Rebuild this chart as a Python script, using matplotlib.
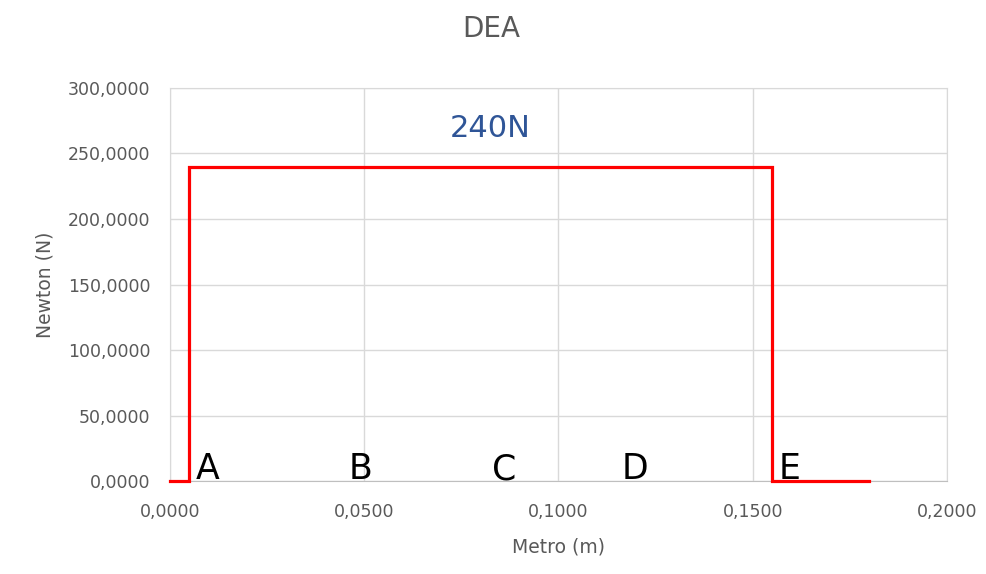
import matplotlib.pyplot as plt
from matplotlib.ticker import FuncFormatter

# diagram of forces along the beam (step shape)
metro = [0.0, 0.005, 0.005, 0.155, 0.155, 0.18]
newton = [0, 0, 240, 240, 0, 0]

pontos = ["A", "B", "C", "D", "E"]
pontos_x = [0.0098, 0.049, 0.086, 0.1196, 0.1595]

xticks = [0.0, 0.05, 0.10, 0.15, 0.20]
yticks = [0, 50, 100, 150, 200, 250, 300]

cinza = "#595959"

fig = plt.figure(figsize=(9.87, 5.74), dpi=100)
ax = fig.add_axes([0.1722, 0.162, 0.7873, 0.6847])

ax.plot(metro, newton, color="red", lw=2.3, solid_joinstyle="miter",
        zorder=3, clip_on=False)

for p, x in zip(pontos, pontos_x):
    ax.text(x, 1.5, p, fontsize=25, ha="center", va="baseline", color="black", zorder=4)

ax.text(0.0825, 269, "240N", fontsize=22, color="#2F5597", ha="center", va="center")

ax.set_xlim(0, 0.2)
ax.set_ylim(0, 300)
ax.set_xticks(xticks)
ax.set_yticks(yticks)
ax.xaxis.set_major_formatter(FuncFormatter(lambda v, _: f"{v:.4f}".replace(".", ",")))
ax.yaxis.set_major_formatter(FuncFormatter(lambda v, _: f"{v:.4f}".replace(".", ",")))
ax.tick_params(length=0, labelsize=12.5, labelcolor=cinza, pad=14)
ax.tick_params(axis="x", pad=16)

ax.grid(True, color="#d9d9d9", lw=1)
ax.set_axisbelow(True)
for s in ["top", "right", "left"]:
    ax.spines[s].set_color("#d9d9d9")
ax.spines["bottom"].set_color("#bfbfbf")

ax.set_xlabel("Metro (m)", fontsize=13.5, color=cinza, labelpad=12)
ax.set_ylabel("Newton (N)", fontsize=13.5, color=cinza, labelpad=10)
fig.text(0.4975, 0.95, "DEA", fontsize=20, color=cinza, ha="center", va="center")

fig.savefig("out.png", dpi=100)
